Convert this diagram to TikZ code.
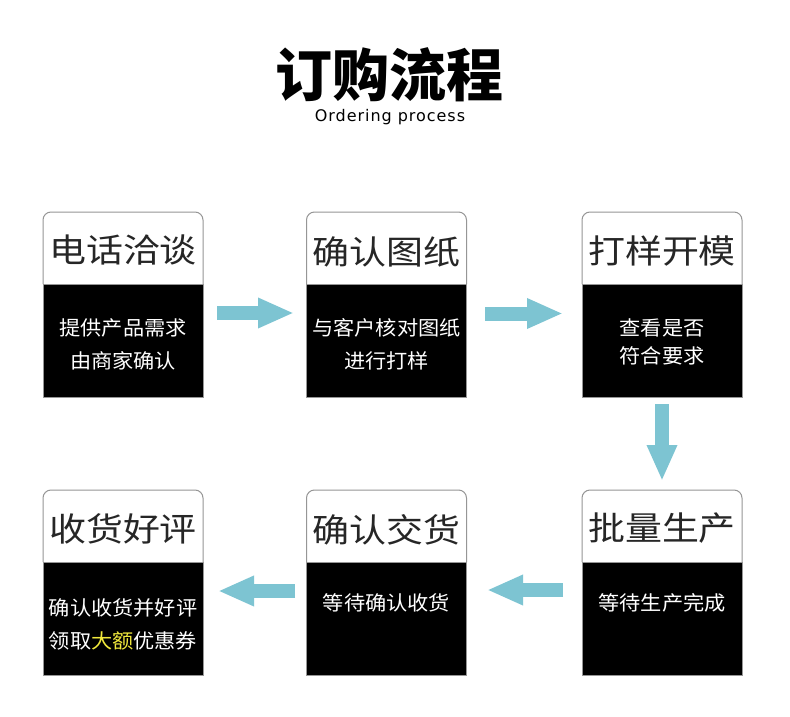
\documentclass[tikz,border=0pt]{standalone}
\usepackage{fontspec}
\usetikzlibrary{arrows.meta,calc}
\newfontfamily\cjk{Noto Sans CJK SC}
\newfontfamily\latinsub[LetterSpace=6]{DejaVu Sans}
\definecolor{arrowblue}{RGB}{125,196,210}
\definecolor{cardgray}{RGB}{150,150,150}
\definecolor{hl}{RGB}{240,232,60}
\tikzset{
  headbox/.style={rectangle,minimum width=160pt,minimum height=72pt,inner sep=0pt,outer sep=0pt},
  bodybox/.style={rectangle,fill=black,draw=cardgray,line width=0.8pt,minimum width=160pt,minimum height=113pt,inner sep=0pt,outer sep=0pt},
  headline/.style={draw=cardgray,line width=1pt,rounded corners=8pt},
  headtext/.style={inner sep=0pt,font=\cjk\fontsize{33}{36}\selectfont,xscale=1.12,text=black!85},
  bodytext/.style={inner sep=0pt,font=\cjk\fontsize{20}{24}\selectfont,xscale=1.06,text=white},
  blockarrow/.style={draw=arrowblue,line width=14pt,-{Triangle[width=28pt,length=36pt,fill=arrowblue]}},
}
\newcommand\cardframe[3]{%
  \node[headbox] (#1h) at (#2+80,#3+36) {};
  \node[bodybox] (#1b) at (#2+80,#3+128.5) {};
  \draw[headline] (#1h.south west) -- (#1h.north west) -- (#1h.north east) -- (#1h.south east);
}
\begin{document}
\begin{tikzpicture}[x=1pt,y=-1pt]
\useasboundingbox[fill=white] (0,0) rectangle (790,717);
% title
\node[inner sep=0pt,font=\cjk\bfseries\fontsize{57}{60}\selectfont] (title) at (389,75) {订购流程};
\node[inner sep=0pt,font=\latinsub\fontsize{16}{18}\selectfont] (subtitle) at (390,117) {Ordering process};
% cards
\cardframe{c1}{43}{212}
\cardframe{c2}{306.5}{212}
\cardframe{c3}{582}{212}
\cardframe{c4}{43}{490}
\cardframe{c5}{306.5}{490}
\cardframe{c6}{582}{490}
% header texts
\node[headtext] (c1t) at (123,250) {电话洽谈};
\node[headtext] (c2t) at (386.5,252) {确认图纸};
\node[headtext] (c3t) at (662,251) {打样开模};
\node[headtext] (c4t) at (123,529) {收货好评};
\node[headtext] (c5t) at (386.5,530) {确认交货};
\node[headtext] (c6t) at (662,528) {批量生产};
% body texts
\node[bodytext] (c1l1) at (123,328) {提供产品需求};
\node[bodytext] (c1l2) at (123,361) {由商家确认};
\node[bodytext] (c2l1) at (386.5,328) {与客户核对图纸};
\node[bodytext] (c2l2) at (386.5,361) {进行打样};
\node[bodytext] (c3l1) at (662,328) {查看是否};
\node[bodytext] (c3l2) at (662,356) {符合要求};
\node[bodytext] (c4l1) at (123,608) {确认收货并好评};
\node[bodytext] (c4l2) at (123,641) {领取\textcolor{hl}{大额}优惠券};
\node[bodytext] (c5l1) at (386.5,603) {等待确认收货};
\node[bodytext] (c6l1) at (662,603) {等待生产完成};
% arrows
\draw[blockarrow] ($(c1b.east)+(14,-27.5)$) -- ($(c2b.west)+(-12.5,-27.5)$);
\draw[blockarrow] ($(c2b.east)+(18.5,-27)$) -- ($(c3b.west)+(-19,-27)$);
\draw[blockarrow] ($(c3b.south)+(0,7)$) -- ($(c6h.north)+(0,-9)$);
\draw[blockarrow] ($(c6b.west)+(-19,-28.5)$) -- ($(c5b.east)+(20.5,-28.5)$);
\draw[blockarrow] ($(c5b.west)+(-11.5,-27.5)$) -- ($(c4b.east)+(15,-27.5)$);
\end{tikzpicture}
\end{document}
